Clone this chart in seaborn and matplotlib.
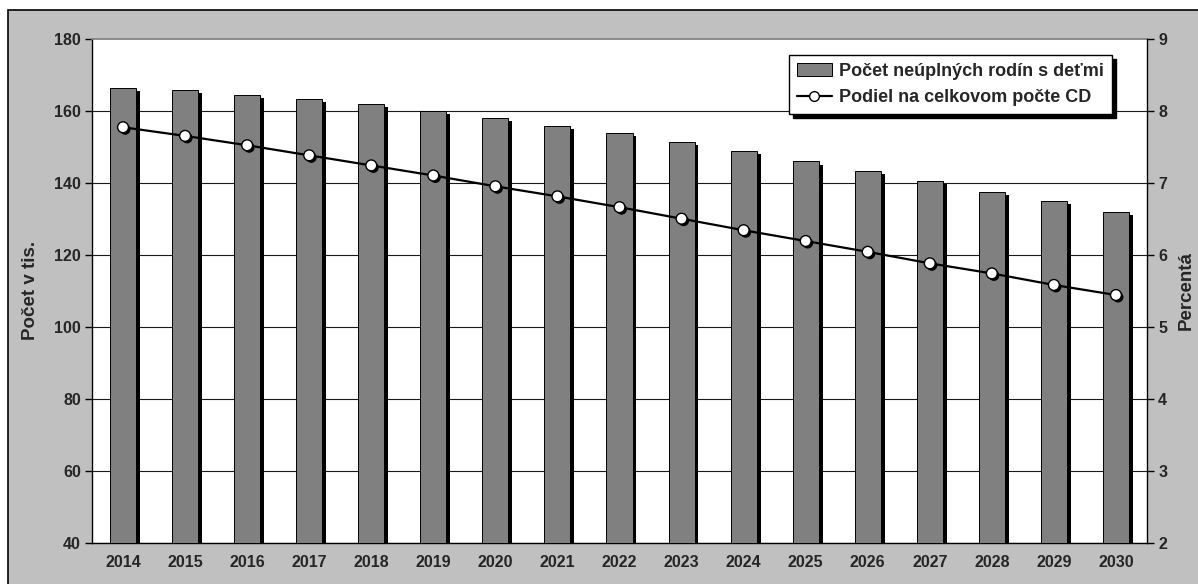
import numpy as np
import pandas as pd
import matplotlib
matplotlib.use("Agg")
import matplotlib.pyplot as plt
import matplotlib.patheffects as pe
from matplotlib.patches import Rectangle, Patch
from matplotlib.lines import Line2D
import seaborn as sns

# údaje odčítané z grafu
roky = ['2014', '2015', '2016', '2017', '2018', '2019', '2020', '2021', '2022',
        '2023', '2024', '2025', '2026', '2027', '2028', '2029', '2030']
pocet_rodin = [166.4, 165.7, 164.3, 163.2, 161.8, 160.0, 157.9, 155.8, 153.8,
               151.4, 148.7, 145.9, 143.2, 140.4, 137.5, 134.8, 131.9]
podiel_cd = [7.77, 7.65, 7.52, 7.38, 7.24, 7.10, 6.95, 6.81, 6.66,
             6.50, 6.34, 6.19, 6.04, 5.88, 5.74, 5.58, 5.44]
lavy_ticky = [40, 60, 80, 100, 120, 140, 160, 180]
pravy_ticky = [2, 3, 4, 5, 6, 7, 8, 9]

df = pd.DataFrame({'rok': roky, 'pocet': pocet_rodin, 'podiel': podiel_cd})

sns.set_theme(style="white")
plt.rcParams['font.family'] = ['Liberation Sans', 'DejaVu Sans']
plt.rcParams['font.weight'] = 'bold'

fig = plt.figure(figsize=(11.98, 5.84), dpi=100, facecolor='white')
ax = fig.add_axes([92 / 1198, 1 - 542.7 / 584, 1055 / 1198, 504 / 584])

# sivý rám okolo celého grafu
fig.add_artist(Rectangle((8 / 1198, -0.02), 1.0, 1 - 10 / 584 + 0.02,
                         transform=fig.transFigure, facecolor='#C0C0C0',
                         edgecolor='black', linewidth=1.2, zorder=-10))

# stĺpce s tieňom
sns.barplot(data=df, x='rok', y='pocet', color='#808080', saturation=1,
            width=0.42, edgecolor='black', linewidth=0.7, ax=ax, zorder=3)
for p in ax.patches:
    p.set_path_effects([pe.SimplePatchShadow(offset=(2.8, -2.2), shadow_rgbFace='black', alpha=1),
                        pe.Normal()])

ax.set_facecolor('white')
ax.set_ylim(40, 180)
ax.set_yticks(lavy_ticky)
ax.set_xlim(-0.5, len(roky) - 0.5)
ax.set_axisbelow(True)
ax.yaxis.grid(True, color='#1a1a1a', linewidth=0.8)
ax.set_xlabel('')
ax.set_ylabel('Počet v tis.', fontsize=13.5, fontweight='bold')
ax.yaxis.set_label_coords(-0.05, 0.5)
ax.set_xticks(np.arange(-0.5, len(roky), 1), minor=True)
ax.tick_params(axis='x', which='major', length=0, pad=9, labelsize=11.5)
ax.tick_params(axis='x', which='minor', length=5, width=1, color='black', direction='out')
ax.tick_params(axis='y', length=5, width=1, color='black', direction='out', pad=3, labelsize=11.5)
for lab in ax.get_xticklabels() + ax.get_yticklabels():
    lab.set_fontweight('bold')
for s in ['left', 'bottom']:
    ax.spines[s].set_color('black')
    ax.spines[s].set_linewidth(1.0)
ax.spines['top'].set_color('#808080')
ax.spines['right'].set_visible(False)
# najvyššia mriežka splýva so sivým horným okrajom
ax.yaxis.get_major_ticks()[-1].gridline.set_visible(False)

# podiel na pravej osi
ax2 = ax.twinx()
xs = ax.get_xticks()
ax2.plot(xs, df['podiel'], color='black', linewidth=1.6, zorder=4)
ax2.plot(xs, df['podiel'], linestyle='none', marker='o', markersize=7.8,
         markerfacecolor='white', markeredgecolor='black', markeredgewidth=1.0, zorder=5,
         path_effects=[pe.SimplePatchShadow(offset=(1.5, -1.5), shadow_rgbFace='black', alpha=1),
                       pe.Normal()])
ax2.set_ylim(2, 9)
ax2.set_yticks(pravy_ticky)
ax2.set_ylabel('Percentá', fontsize=13.5, fontweight='bold')
ax2.yaxis.set_label_coords(1.029, 0.5)
ax2.tick_params(axis='y', length=5, width=1, color='black', direction='out', pad=3, labelsize=11.5)
for lab in ax2.get_yticklabels():
    lab.set_fontweight('bold')
for s in ['top', 'left', 'bottom']:
    ax2.spines[s].set_visible(False)
ax2.spines['right'].set_color('black')
ax2.spines['right'].set_linewidth(1.0)
ax2.grid(False)

# legenda
handles = [Patch(facecolor='#808080', edgecolor='black', linewidth=0.7),
           Line2D([], [], color='black', linewidth=1.6, marker='o', markersize=7,
                  markerfacecolor='white', markeredgecolor='black')]
labels = ['Počet neúplných rodín s deťmi', 'Podiel na celkovom počte CD']
leg = ax2.legend(handles, labels, loc='upper right', bbox_to_anchor=(0.967, 0.968),
                 borderaxespad=0, fancybox=False, framealpha=1, edgecolor='black',
                 prop={'size': 13, 'weight': 'bold'}, handlelength=1.95,
                 handletextpad=0.4, borderpad=0.45, labelspacing=0.5,
                 shadow={'ox': 3, 'oy': -3, 'facecolor': 'black',
                         'edgecolor': 'black', 'alpha': 1})
leg.get_frame().set_linewidth(1.0)

fig.savefig('out.png', dpi=100, facecolor='white')
